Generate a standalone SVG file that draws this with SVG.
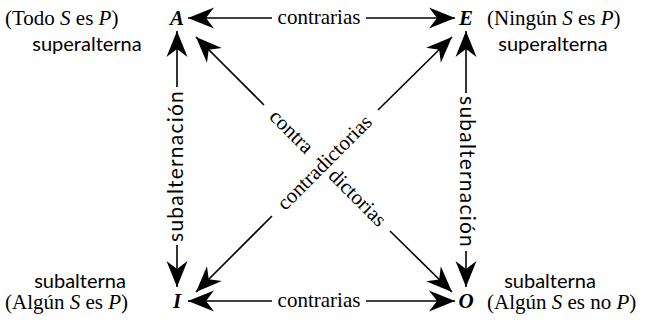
<svg xmlns="http://www.w3.org/2000/svg" width="658" height="329" viewBox="0 0 658 329">
<style>
.serif{font-family:"Liberation Serif","Times New Roman",serif;font-size:21px;fill:#000}
.sans{font-family:Lato,"Open Sans",sans-serif;font-size:20px;fill:#000}
.vt{font-family:Lato,"Open Sans",sans-serif;font-size:21px;letter-spacing:1.2px;fill:#000;text-anchor:middle}
.it{font-style:italic}
.vx{font-family:"Liberation Serif",serif;font-size:21px;font-weight:bold;font-style:italic;fill:#000;text-anchor:middle}
.ln{stroke:#000;stroke-width:1.6;fill:none;marker-end:url(#ah)}
.mid{text-anchor:middle}
</style>
<defs>
<marker id="ah" viewBox="-27 -11 28 22" refX="0" refY="0" markerWidth="28" markerHeight="22" markerUnits="userSpaceOnUse" orient="auto">
<path d="M0,0 L-26,-10.5 L-18,0 L-26,10.5 Z" fill="#000"/>
</marker>
</defs>
<rect width="658" height="329" fill="#fff"/>

<g id="node-A">
<text class="vx" x="177" y="25">A</text>
<text class="serif" x="5" y="25">(Todo <tspan class="it">S</tspan> es <tspan class="it">P</tspan>)</text>
<text class="sans mid" x="87" y="51">superalterna</text>
</g>
<g id="node-E">
<text class="vx" x="466" y="25">E</text>
<text class="serif" x="487" y="25">(Ningún <tspan class="it">S</tspan> es <tspan class="it">P</tspan>)</text>
<text class="sans mid" x="553" y="51">superalterna</text>
</g>
<g id="node-I">
<text class="vx" x="177" y="308">I</text>
<text class="sans mid" x="80" y="288">subalterna</text>
<text class="serif" x="5" y="309">(Algún <tspan class="it">S</tspan> es <tspan class="it">P</tspan>)</text>
</g>
<g id="node-O">
<text class="vx" x="466" y="308">O</text>
<text class="sans mid" x="550" y="288">subalterna</text>
<text class="serif" x="487" y="309">(Algún <tspan class="it">S</tspan> es no <tspan class="it">P</tspan>)</text>
</g>

<g id="connectors">
<!-- A - E contrarias -->
<line class="ln" x1="272" y1="18" x2="188" y2="18"/>
<line class="ln" x1="366" y1="18" x2="455" y2="18"/>
<text class="serif mid" x="319" y="24">contrarias</text>
<!-- I - O contrarias -->
<line class="ln" x1="272" y1="301" x2="188" y2="301"/>
<line class="ln" x1="366" y1="301" x2="455" y2="301"/>
<text class="serif mid" x="319" y="307">contrarias</text>
<!-- A - I subalternacion -->
<line class="ln" x1="177" y1="87" x2="177" y2="31"/>
<line class="ln" x1="177" y1="245" x2="177" y2="287"/>
<text class="vt" transform="translate(183,166) rotate(-90)">subalternación</text>
<!-- E - O subalternacion -->
<line class="ln" x1="466" y1="93" x2="466" y2="31"/>
<line class="ln" x1="466" y1="251" x2="466" y2="287"/>
<text class="vt" transform="translate(460,172) rotate(90)">subalternación</text>
<!-- A - O contradictorias -->
<line class="ln" x1="264" y1="105" x2="196" y2="37"/>
<line class="ln" x1="390" y1="231" x2="452" y2="292"/>
<text class="serif mid" transform="translate(291,132) rotate(45)" y="6">contra</text>
<text class="serif mid" transform="translate(357,198) rotate(45)" y="6">dictorias</text>
<!-- E - I contradictorias -->
<line class="ln" x1="272" y1="216" x2="196" y2="292"/>
<line class="ln" x1="378" y1="110" x2="452" y2="37"/>
<text class="serif mid" transform="translate(325,163) rotate(-45)" y="6">contradictorias</text>
</g>
</svg>
